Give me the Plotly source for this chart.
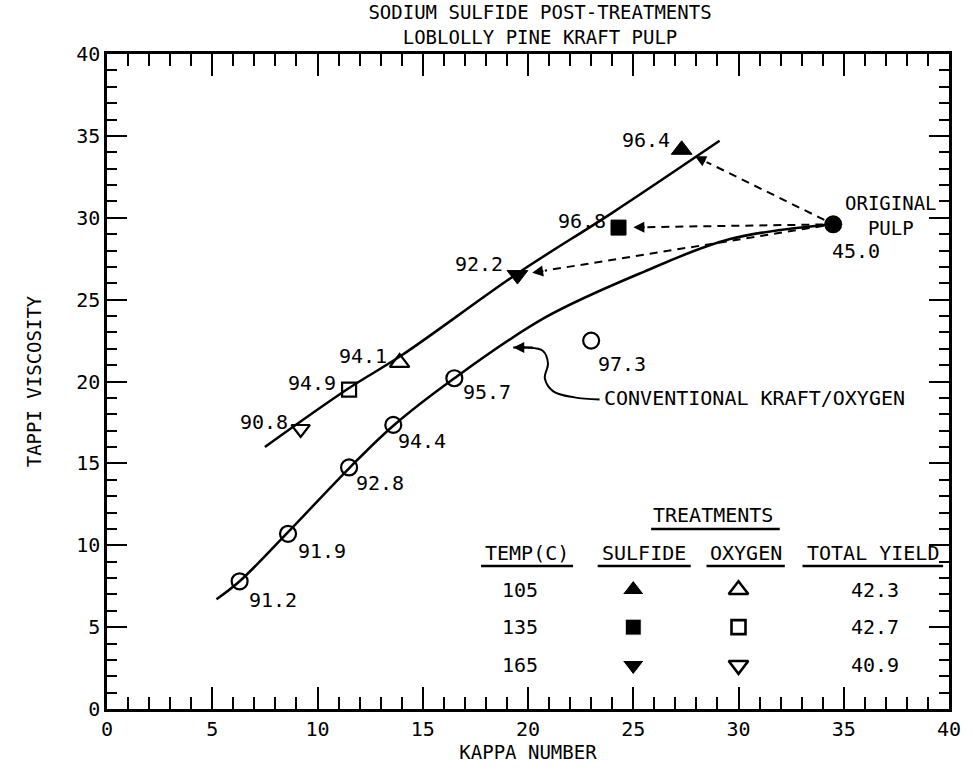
import math
import plotly.graph_objects as go

# ---------------- data ----------------
# Conventional kraft/oxygen pulps (open circles) with their yields (%)
kraft_kappa = [6.3, 8.6, 11.5, 13.6, 16.5, 23.0]
kraft_visc = [7.8, 10.7, 14.75, 17.35, 20.2, 22.5]
kraft_labels = ["91.2", "91.9", "92.8", "94.4", "95.7", "97.3"]

# Fitted curve for the conventional kraft/oxygen pulps
kraft_curve_kappa = [5.2, 6.3, 8.6, 11.5, 13.6, 16.5, 20.8, 25.5, 29.6, 34.5]
kraft_curve_visc = [6.7, 7.8, 10.8, 14.7, 17.3, 20.2, 23.9, 26.7, 28.7, 29.6]

# Sodium sulfide post-treatments
temps = ["105", "135", "165"]
total_yield = ["42.3", "42.7", "40.9"]
sulfide_kappa = [27.3, 24.3, 19.5]
sulfide_visc = [34.15, 29.4, 26.5]
sulfide_labels = ["96.4", "96.8", "92.2"]
oxygen_kappa = [13.9, 11.5, 9.2]
oxygen_visc = [21.15, 19.5, 17.1]
oxygen_labels = ["94.1", "94.9", "90.8"]

# Fitted line through post-treated pulps
post_line_kappa = [7.5, 11.5, 14.0, 19.5, 24.0, 29.1]
post_line_visc = [16.0, 19.6, 21.6, 26.6, 30.3, 34.7]

# Original pulp
original_kappa = [34.5]
original_visc = [29.6]
original_label = "45.0"

# Leader line for the "CONVENTIONAL KRAFT/OXYGEN" callout
leader_kappa = [19.3, 19.9, 20.7, 20.95, 20.8, 21.2, 22.2, 23.4]
leader_visc = [22.07, 22.07, 21.88, 21.1, 20.2, 19.4, 19.03, 18.9]

# ---------------- styling ----------------
FONT = "DejaVu Sans Mono, Liberation Mono, monospace"
BLACK = "black"
PX_X = 851 / 40.0   # pixels per kappa unit (for arrow gaps)
PX_Y = 658 / 40.0   # pixels per viscosity unit

fig = go.Figure()

# curves
fig.add_trace(go.Scatter(x=kraft_curve_kappa, y=kraft_curve_visc, mode="lines",
                         line=dict(color=BLACK, width=2.5, shape="spline", smoothing=1.0),
                         hoverinfo="skip"))
fig.add_trace(go.Scatter(x=post_line_kappa, y=post_line_visc, mode="lines",
                         line=dict(color=BLACK, width=2.5, shape="spline", smoothing=1.0),
                         hoverinfo="skip"))
fig.add_trace(go.Scatter(x=leader_kappa, y=leader_visc, mode="lines",
                         line=dict(color=BLACK, width=2, shape="spline", smoothing=1.0),
                         hoverinfo="skip"))


def along(p0, p1, gap_px):
    dx = (p1[0] - p0[0]) * PX_X
    dy = (p1[1] - p0[1]) * PX_Y
    L = math.hypot(dx, dy)
    f = gap_px / L
    return (p0[0] + (p1[0] - p0[0]) * f, p0[1] + (p1[1] - p0[1]) * f)


# dashed arrows from the original pulp to the sulfide-treated pulps
o = (original_kappa[0], original_visc[0])
for sk, sv in zip(sulfide_kappa, sulfide_visc):
    t = (sk, sv)
    start = along(o, t, 10)
    tip = along(t, o, 15)
    back = along(t, o, 28)
    fig.add_trace(go.Scatter(x=[start[0], back[0]], y=[start[1], back[1]], mode="lines",
                             line=dict(color=BLACK, width=2, dash="8px,6px"),
                             hoverinfo="skip"))
    fig.add_annotation(x=tip[0], y=tip[1], ax=back[0], ay=back[1], xref="x", yref="y",
                       axref="x", ayref="y", text="", showarrow=True,
                       arrowhead=2, arrowsize=1.1, arrowwidth=2, arrowcolor=BLACK)

# leader arrowhead
fig.add_annotation(x=leader_kappa[0], y=leader_visc[0], ax=leader_kappa[1] + 0.4, ay=leader_visc[1],
                   xref="x", yref="y", axref="x", ayref="y", text="", showarrow=True,
                   arrowhead=2, arrowsize=1.1, arrowwidth=2, arrowcolor=BLACK)

# markers
fig.add_trace(go.Scatter(x=kraft_kappa, y=kraft_visc, mode="markers",
                         marker=dict(symbol="circle-open", size=16, color=BLACK, opacity=1,
                                     line=dict(width=2.2, color=BLACK))))
sul_sym = ["triangle-up", "square", "triangle-down"]
oxy_sym = ["triangle-up-open", "square-open", "triangle-down-open"]
sul_size = [18, 15, 18]
oxy_size = [17, 14, 16]
fig.add_trace(go.Scatter(x=sulfide_kappa, y=sulfide_visc, mode="markers",
                         marker=dict(symbol=sul_sym, size=sul_size, color=BLACK, opacity=1,
                                     line=dict(width=1, color=BLACK))))
fig.add_trace(go.Scatter(x=oxygen_kappa, y=oxygen_visc, mode="markers",
                         marker=dict(symbol=oxy_sym, size=oxy_size, color=BLACK, opacity=1,
                                     line=dict(width=2.2, color=BLACK))))
fig.add_trace(go.Scatter(x=original_kappa, y=original_visc, mode="markers",
                         marker=dict(symbol="circle", size=18, color=BLACK, opacity=1)))

# point labels
tf = dict(family=FONT, size=20, color=BLACK)
k_shift = [(33, -19), (34, -17), (31, -16), (29, -16), (33, -14), (31, -23)]
for x, y, lab, (dx, dy) in zip(kraft_kappa, kraft_visc, kraft_labels, k_shift):
    fig.add_annotation(x=x, y=y, text=lab, showarrow=False, xshift=dx, yshift=dy, font=tf)
s_shift = [(-36, 10), (-37, 7), (-38, 11)]
for x, y, lab, (dx, dy) in zip(sulfide_kappa, sulfide_visc, sulfide_labels, s_shift):
    fig.add_annotation(x=x, y=y, text=lab, showarrow=False, xshift=dx, yshift=dy, font=tf)
for x, y, lab in zip(oxygen_kappa, oxygen_visc, oxygen_labels):
    fig.add_annotation(x=x, y=y, text=lab, showarrow=False, xshift=-37, yshift=7, font=tf)

fig.add_annotation(x=original_kappa[0], y=original_visc[0], text=original_label, showarrow=False,
                   xshift=23, yshift=-27, font=tf)
fig.add_annotation(x=original_kappa[0], y=original_visc[0], text="ORIGINAL<br>PULP", showarrow=False,
                   xshift=58, yshift=9, align="center",
                   font=dict(family=FONT, size=19, color=BLACK))
fig.add_annotation(x=leader_kappa[-1], y=leader_visc[-1], text="CONVENTIONAL KRAFT/OXYGEN",
                   showarrow=False, xanchor="left", xshift=2, yshift=2, font=tf)

# ---------------- treatment table ----------------
col_temp, col_sul, col_oxy, col_yld = 19.6, 25.0, 30.0, 36.5
rows_y = [7.28, 5.0, 2.67]
hdr_y, hdr_line_y = 9.54, 8.74
tr_y, tr_line_y = 11.87, 11.0

fig.add_annotation(x=28.8, y=tr_y, text="TREATMENTS", showarrow=False, font=tf)
fig.add_shape(type="line", x0=25.85, x1=31.96, y0=tr_line_y, y1=tr_line_y,
              line=dict(color=BLACK, width=2.5))
headers = [("TEMP(C)", 19.96, 17.77, 22.14), ("SULFIDE", 25.52, 23.31, 27.73),
           ("OXYGEN", 30.35, 28.48, 32.2), ("TOTAL YIELD", 36.4, 33.04, 39.72)]
for txt, xc, x0, x1 in headers:
    fig.add_annotation(x=xc, y=hdr_y, text=txt, showarrow=False, font=tf)
    fig.add_shape(type="line", x0=x0, x1=x1, y0=hdr_line_y, y1=hdr_line_y,
                  line=dict(color=BLACK, width=2.5))
for t, yl, ry in zip(temps, total_yield, rows_y):
    fig.add_annotation(x=col_temp, y=ry, text=t, showarrow=False, font=tf)
    fig.add_annotation(x=col_yld, y=ry, text=yl, showarrow=False, font=tf)
fig.add_trace(go.Scatter(x=[col_sul] * 3, y=rows_y, mode="markers",
                         marker=dict(symbol=sul_sym, size=[19, 16, 19], color=BLACK, opacity=1)))
fig.add_trace(go.Scatter(x=[col_oxy] * 3, y=rows_y, mode="markers",
                         marker=dict(symbol=oxy_sym, size=[17, 14, 17], color=BLACK, opacity=1,
                                     line=dict(width=2.6, color=BLACK))))

# ---------------- title ----------------
fig.update_layout(title=dict(text="SODIUM SULFIDE POST-TREATMENTS<br>LOBLOLLY PINE KRAFT PULP",
                             x=0.555, xanchor="center", y=0.975, yanchor="middle",
                             yref="container",
                             font=dict(family=FONT, size=19, color=BLACK)))

axis_common = dict(range=[0, 40], dtick=5, tick0=0, ticks="inside", tickwidth=2, tickcolor=BLACK,
                   showline=True, linewidth=2.5, linecolor=BLACK, mirror="ticks",
                   showgrid=False, zeroline=False,
                   tickfont=dict(family=FONT, size=20, color=BLACK))

fig.update_xaxes(**axis_common, ticklen=22,
                 minor=dict(dtick=1, ticks="inside", ticklen=12, tickwidth=1.6, tickcolor=BLACK,
                            showgrid=False),
                 title=dict(text="KAPPA NUMBER", standoff=5,
                            font=dict(family=FONT, size=19, color=BLACK)))
fig.update_yaxes(**axis_common, ticklen=20,
                 minor=dict(dtick=1, ticks="inside", ticklen=10, tickwidth=1.6, tickcolor=BLACK,
                            showgrid=False),
                 title=dict(text="TAPPI VISCOSITY", standoff=30,
                            font=dict(family=FONT, size=19, color=BLACK)))

fig.update_layout(width=973, height=771, margin=dict(l=107, r=15, t=54, b=59),
                  paper_bgcolor="white", plot_bgcolor="white", showlegend=False,
                  font=dict(family=FONT, color=BLACK))

fig.write_html("out.html")
